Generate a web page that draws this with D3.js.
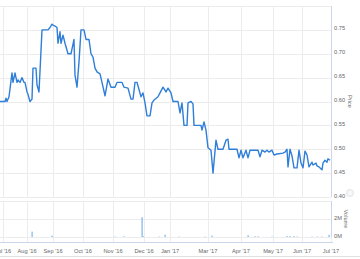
<!DOCTYPE html>
<html>
<head>
<meta charset="utf-8">
<script src="https://cdn.jsdelivr.net/npm/d3@7"></script>
<style>
  body { margin: 0; background: #fff; }
  svg { display: block; font-family: "Liberation Sans", Arial, sans-serif; }
</style>
</head>
<body>
<svg id="chart" width="360" height="259"></svg>
<script>
// ordinal session index (trading points) -> price
var priceSession = [0,5,6,7,9,12,13,15,17,18,20,22,24,25,27,28,30,32,33,36,37,39,42,48,50,52,53,55,57,58,60,61,63,65,68,71,74,75,77,79,81,84,86,89,91,93,95,97,100,102,105,108,111,115,117,122,124,128,131,133,135,137,139,141,143,145,147,150,152,154,158,160,163,166,168,171,173,178,180,182,184,187,188,191,193,194,201,202,204,206,208,211,213,214,216,218,223,226,228,229,237,239,241,243,246,248,250,258,260,262,265,267,269,272,274,277,283,285,287,288,290,292,294,297,299,301,303,305,307,309,312,313,316,317,319,322,323,325,327,328,330];
var priceValue = [0.60,0.60,0.607,0.60,0.61,0.66,0.64,0.66,0.64,0.645,0.64,0.65,0.64,0.64,0.62,0.615,0.60,0.605,0.67,0.67,0.635,0.62,0.75,0.75,0.755,0.762,0.76,0.758,0.755,0.722,0.746,0.722,0.739,0.722,0.70,0.70,0.73,0.655,0.63,0.683,0.75,0.75,0.73,0.73,0.70,0.693,0.67,0.662,0.658,0.64,0.612,0.647,0.63,0.63,0.64,0.64,0.63,0.628,0.605,0.605,0.64,0.64,0.625,0.61,0.618,0.597,0.57,0.57,0.597,0.603,0.61,0.618,0.63,0.62,0.628,0.618,0.60,0.60,0.576,0.597,0.55,0.55,0.597,0.60,0.595,0.55,0.55,0.54,0.557,0.54,0.503,0.498,0.45,0.473,0.519,0.50,0.50,0.519,0.521,0.50,0.50,0.482,0.498,0.482,0.498,0.482,0.498,0.498,0.484,0.498,0.494,0.498,0.494,0.498,0.488,0.49,0.492,0.494,0.50,0.463,0.50,0.486,0.461,0.461,0.498,0.471,0.461,0.496,0.488,0.463,0.473,0.467,0.471,0.465,0.463,0.457,0.471,0.477,0.473,0.48,0.477];

var volSession = [32,52,115,124,142,143,159,165,179,205,212,248,255,258,272,287,290,294,297,312,317,322,329];
var volValue = [0.6e6,0.15e6,0.05e6,0.08e6,2.2e6,0.1e6,0.05e6,0.25e6,0.05e6,0.05e6,0.15e6,0.2e6,0.08e6,0.08e6,0.05e6,0.1e6,0.1e6,0.1e6,0.05e6,0.05e6,0.05e6,0.05e6,0.25e6];

var monthSession = [3,27,53,83,113,144,170,208,241,273,302,331];
var monthLabels = ["Jul '16","Aug '16","Sep '16","Oct '16","Nov '16","Dec '16","Jan '17","Mar '17","Apr '17","May '17","Jun '17","Jul '17"];

var priceTicks = [0.40,0.45,0.50,0.55,0.60,0.65,0.70,0.75,0.80];
var volTicks = [0, 2e6, 4e6];

var svg = d3.select("#chart");
var left = 0, right = 331;
var price = {top: 6, bottom: 197};
var vol = {top: 201, bottom: 242};

var x = d3.scaleLinear().domain([0, 331]).range([left, right]);
var y = d3.scaleLinear().domain([0.40, 0.80]).range([price.bottom, price.top]);
var yv = d3.scaleLinear().domain([0, 4e6]).range([237, vol.top]);

var grid = "#ececec";
var axisCol = "#ccd6eb";
var labelCol = "#666";

// horizontal grid, price
svg.append("g").selectAll("line")
  .data(priceTicks)
  .join("line")
  .attr("x1", left).attr("x2", right)
  .attr("y1", d => Math.round(y(d)) + 0.5).attr("y2", d => Math.round(y(d)) + 0.5)
  .attr("stroke", grid);

// horizontal grid, volume
svg.append("g").selectAll("line")
  .data(volTicks)
  .join("line")
  .attr("x1", left).attr("x2", right)
  .attr("y1", d => Math.round(yv(d)) + 0.5).attr("y2", d => Math.round(yv(d)) + 0.5)
  .attr("stroke", grid);

// vertical month grid in both panes
[price, vol].forEach(p => {
  svg.append("g").selectAll("line")
    .data(monthSession)
    .join("line")
    .attr("x1", d => Math.round(x(d)) + 0.5).attr("x2", d => Math.round(x(d)) + 0.5)
    .attr("y1", p.top).attr("y2", p.bottom)
    .attr("stroke", grid);
});

// x axis line under volume + navigator top
svg.append("line").attr("x1", left).attr("x2", right + 2)
  .attr("y1", vol.bottom + 0.5).attr("y2", vol.bottom + 0.5).attr("stroke", axisCol);
svg.append("line").attr("x1", 0).attr("x2", 360)
  .attr("y1", 256.5).attr("y2", 256.5).attr("stroke", "#e0e0e0");

// right axis lines
svg.append("line").attr("x1", right + 0.5).attr("x2", right + 0.5)
  .attr("y1", price.top).attr("y2", price.bottom).attr("stroke", axisCol);
svg.append("line").attr("x1", right + 0.5).attr("x2", right + 0.5)
  .attr("y1", vol.top).attr("y2", 237).attr("stroke", axisCol);

// price line
var line = d3.line()
  .x((d, i) => x(priceSession[i]))
  .y(d => y(d));

svg.append("path")
  .datum(priceValue)
  .attr("d", line)
  .attr("fill", "none")
  .attr("stroke", "#2f7ed8")
  .attr("stroke-width", 1.4)
  .attr("stroke-linejoin", "round");

// volume bars
svg.append("g").selectAll("rect")
  .data(volValue)
  .join("rect")
  .attr("x", (d, i) => x(volSession[i]) - 0.5)
  .attr("width", 1.2)
  .attr("y", d => yv(d))
  .attr("height", d => yv(0) - yv(d))
  .attr("fill", "#7cb5ec");

// price axis labels
svg.append("g").selectAll("text")
  .data(priceTicks.filter(d => d < 0.8))
  .join("text")
  .attr("x", 334)
  .attr("y", d => y(d) + 0.5)
  .attr("font-size", "5.7px")
  .attr("fill", labelCol)
  .text(d => d.toFixed(2));

svg.append("g").selectAll("text")
  .data(volTicks.filter(d => d < 4e6))
  .join("text")
  .attr("x", 334)
  .attr("y", d => yv(d) + 1)
  .attr("font-size", "5.7px")
  .attr("fill", labelCol)
  .text(d => (d / 1e6) + "M");

// axis titles
svg.append("text")
  .attr("transform", "translate(348," + ((price.top + price.bottom) / 2) + ") rotate(90)")
  .attr("text-anchor", "middle")
  .attr("font-size", "5.7px")
  .attr("fill", labelCol)
  .text("Price");

svg.append("text")
  .attr("transform", "translate(343.5," + ((vol.top + 237) / 2) + ") rotate(90)")
  .attr("text-anchor", "middle")
  .attr("font-size", "5.7px")
  .attr("fill", labelCol)
  .text("Volume");

// month labels
svg.append("g").selectAll("text")
  .data(monthLabels)
  .join("text")
  .attr("x", (d, i) => x(monthSession[i]))
  .attr("y", 252.8)
  .attr("text-anchor", "middle")
  .attr("font-size", "5.7px")
  .attr("fill", labelCol)
  .text(d => d);

// faint round handle bottom right
svg.append("circle").attr("cx", 350).attr("cy", 193).attr("r", 3.5)
  .attr("fill", "#f7f7f7").attr("stroke", "#e3e3e3");
</script>
</body>
</html>
